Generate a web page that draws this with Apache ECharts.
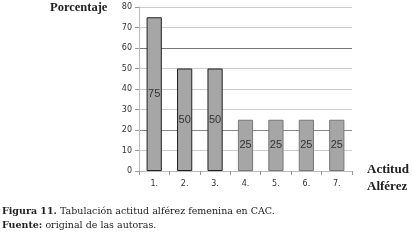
<!DOCTYPE html>
<html>
<head>
<meta charset="utf-8">
<script src="https://cdn.jsdelivr.net/npm/echarts@6/dist/echarts.min.js"></script>
<style>
  html, body { margin: 0; padding: 0; background: #fff; }
  #chart { width: 412px; height: 251px; }
</style>
</head>
<body>
<div id="chart"></div>
<script>
const categories = ["1.", "2.", "3.", "4.", "5.", "6.", "7."];
const values = [75, 50, 50, 25, 25, 25, 25];
const yTicks = [0, 10, 20, 30, 40, 50, 60, 70, 80];

const chart = echarts.init(document.getElementById("chart"));

// first three bars have a heavier outline in the original
const barData = values.map((v, i) => ({
  value: v,
  itemStyle: { borderColor: i < 3 ? "#222" : "#777" }
}));

chart.setOption({
  animation: false,
  grid: { left: 139, right: 60, top: 7, bottom: 80 },
  xAxis: {
    type: "category",
    data: categories,
    axisLine: { lineStyle: { color: "#bbb" } },
    axisTick: { show: true, length: 4, lineStyle: { color: "#999" } },
    axisLabel: { color: "#333", fontSize: 8, fontFamily: "DejaVu Sans", margin: 9 }
  },
  yAxis: {
    type: "value",
    min: yTicks[0],
    max: yTicks[yTicks.length - 1],
    interval: 10,
    axisLine: { show: true, lineStyle: { color: "#bbb" } },
    axisTick: { show: true, length: 4, lineStyle: { color: "#999" } },
    axisLabel: { color: "#333", fontSize: 8, fontFamily: "DejaVu Sans", margin: 7 },
    splitLine: {
      lineStyle: {
        color: ["#bbb", "#ccc", "#888", "#ccc", "#ccc", "#ccc", "#777", "#ccc", "#ccc"]
      }
    }
  },
  series: [{
    type: "bar",
    data: barData,
    barWidth: "50%",
    itemStyle: { color: "#a6a6a6", borderWidth: 1 },
    label: {
      show: true,
      position: "inside",
      color: "#333",
      fontSize: 11,
      fontFamily: "Liberation Sans"
    }
  }],
  graphic: [
    { type: "text", left: 50, top: 1,
      style: { text: "Porcentaje", font: "bold 12.5px 'Liberation Serif'", fill: "#222" } },
    { type: "text", left: 367, top: 163,
      style: { text: "Actitud", font: "bold 13px 'Liberation Serif'", fill: "#222" } },
    { type: "text", left: 367, top: 180,
      style: { text: "Alférez", font: "bold 13px 'Liberation Serif'", fill: "#222" } },
    { type: "text", left: 2, top: 207,
      style: {
        text: "{b|Figura 11.} Tabulación actitud alférez femenina en CAC.",
        font: "9.5px 'DejaVu Serif'", fill: "#222",
        rich: { b: { fontWeight: "bold", fontSize: 9.5, fontFamily: "DejaVu Serif", fill: "#222" } }
      } },
    { type: "text", left: 2, top: 221,
      style: {
        text: "{b|Fuente:} original de las autoras.",
        font: "9.5px 'DejaVu Serif'", fill: "#222",
        rich: { b: { fontWeight: "bold", fontSize: 9.5, fontFamily: "DejaVu Serif", fill: "#222" } }
      } }
  ]
});
</script>
</body>
</html>
